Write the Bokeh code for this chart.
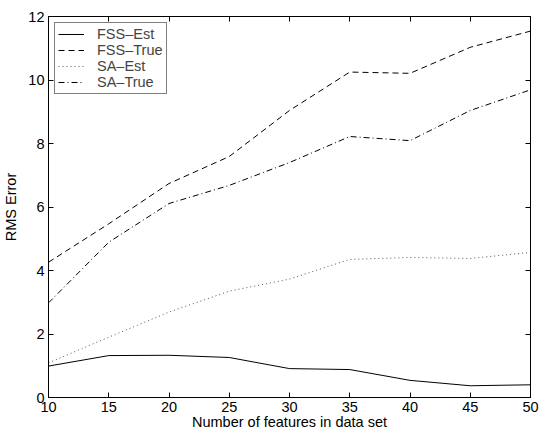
from bokeh.plotting import figure
from bokeh.models import LinearAxis, FixedTicker, Legend, LegendItem, Range1d
from bokeh.embed import file_html
from bokeh.resources import INLINE

features = [10, 15, 20, 25, 30, 35, 40, 45, 50]
fss_est = [0.99, 1.32, 1.33, 1.26, 0.91, 0.88, 0.54, 0.37, 0.40]
fss_true = [4.26, 5.47, 6.74, 7.59, 9.04, 10.25, 10.21, 11.03, 11.54]
sa_est = [1.09, 1.90, 2.69, 3.35, 3.73, 4.35, 4.41, 4.38, 4.57]
sa_true = [2.98, 4.89, 6.11, 6.68, 7.40, 8.22, 8.09, 9.04, 9.69]
x_ticks = [10, 15, 20, 25, 30, 35, 40, 45, 50]
y_ticks = [0, 2, 4, 6, 8, 10, 12]

FONT = "Liberation Sans"
FS = "14.5px"

p = figure(width=539, height=432, output_backend="svg", toolbar_location=None,
           x_range=Range1d(10, 50), y_range=Range1d(0, 12),
           min_border_left=47, min_border_right=9, min_border_top=16, min_border_bottom=35)
p.xgrid.visible = False
p.ygrid.visible = False
p.outline_line_color = "black"
p.outline_line_width = 1
p.background_fill_color = "white"

def style(ax, labels=True):
    ax.axis_line_color = "black"
    ax.major_tick_line_color = "black"
    ax.major_tick_in = 5
    ax.major_tick_out = 0
    ax.minor_tick_line_color = None
    ax.major_label_text_font = FONT
    ax.major_label_text_font_size = FS
    ax.major_label_text_color = "black"
    ax.axis_label_text_font = FONT
    ax.axis_label_text_font_size = FS
    ax.axis_label_text_font_style = "normal"
    ax.axis_label_text_color = "black"
    if not labels:
        ax.major_label_text_font_size = "0px"
        ax.major_label_text_color = None

p.xaxis.ticker = FixedTicker(ticks=x_ticks)
p.yaxis.ticker = FixedTicker(ticks=y_ticks)
style(p.xaxis[0])
style(p.yaxis[0])
p.xaxis.axis_label = "Number of features in data set"
p.yaxis.axis_label = "RMS Error"
p.xaxis.major_label_standoff = 4
p.xaxis.axis_label_standoff = -1
p.yaxis.major_label_standoff = 4
p.yaxis.axis_label_standoff = 6

top = LinearAxis(ticker=FixedTicker(ticks=x_ticks))
style(top, labels=False)
p.add_layout(top, "above")
right = LinearAxis(ticker=FixedTicker(ticks=y_ticks))
style(right, labels=False)
p.add_layout(right, "right")

r1 = p.line(features, fss_est, line_color="black", line_width=1)
r2 = p.line(features, fss_true, line_color="black", line_width=1, line_dash="6 4")
r3 = p.line(features, sa_est, line_color="#555555", line_width=1, line_dash="1 3")
r4 = p.line(features, sa_true, line_color="black", line_width=1, line_dash="6 3 1 3")

legend = Legend(items=[
    LegendItem(label="FSS–Est", renderers=[r1]),
    LegendItem(label="FSS–True", renderers=[r2]),
    LegendItem(label="SA–Est", renderers=[r3]),
    LegendItem(label="SA–True", renderers=[r4]),
], location="top_left")
legend.label_text_font = FONT
legend.label_text_font_size = FS
legend.border_line_color = "black"
legend.border_line_width = 1
legend.padding = 3
legend.spacing = 0
legend.margin = 6
legend.label_height = 16
legend.glyph_height = 16
legend.glyph_width = 26
legend.label_standoff = 13
legend.background_fill_alpha = 1
p.add_layout(legend, "center")

open("out.html", "w").write(file_html(p, INLINE))
